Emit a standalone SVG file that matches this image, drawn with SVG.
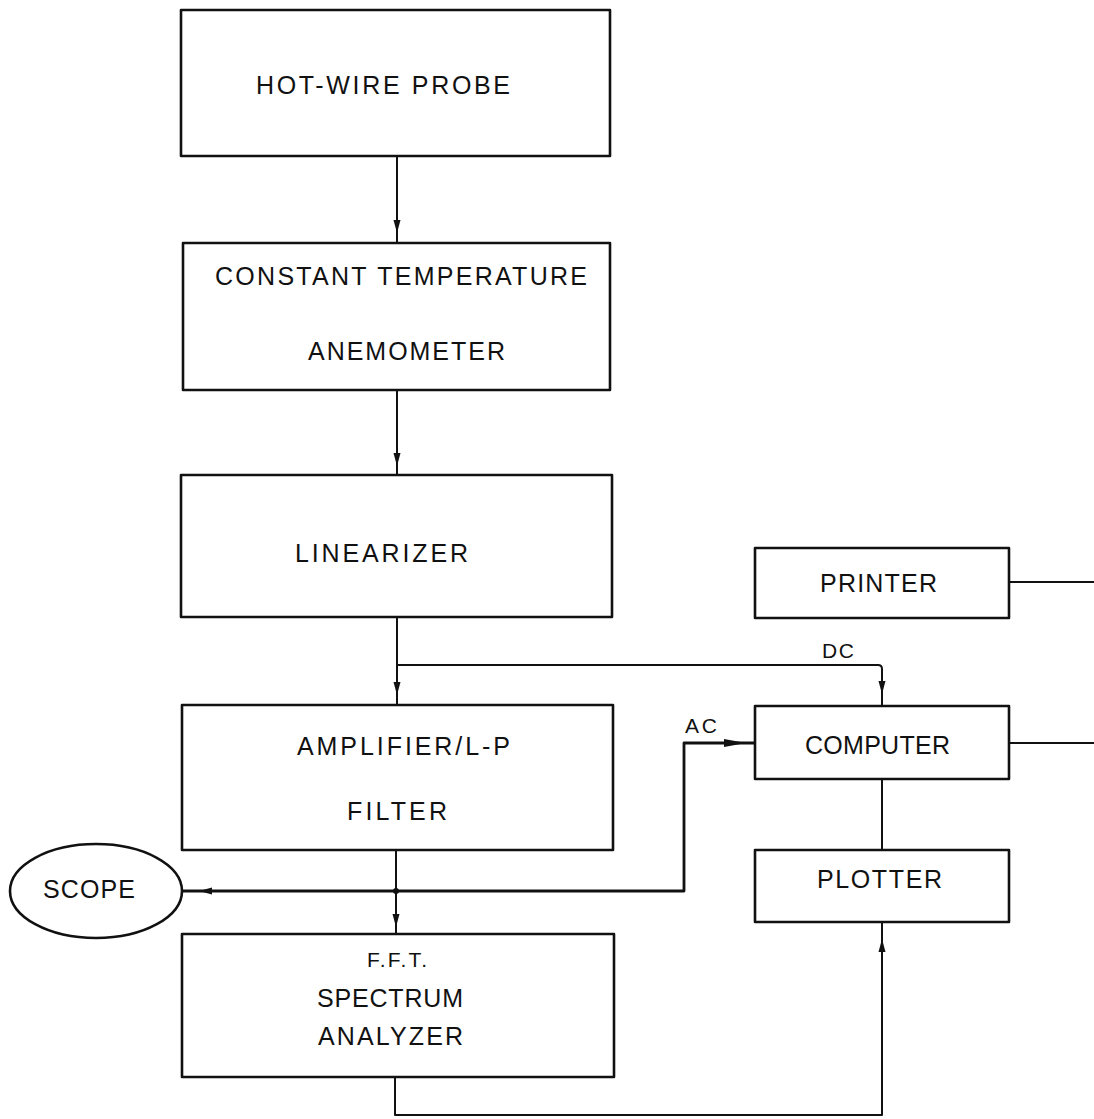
<svg xmlns="http://www.w3.org/2000/svg" xmlns:xlink="http://www.w3.org/1999/xlink" width="1094" height="1119" viewBox="0 0 1094 1119">
  <style>
    .box { fill: none; stroke: #111; stroke-width: 2.6; stroke-linejoin: round; }
    .wire { fill: none; stroke: #111; stroke-width: 2; stroke-linejoin: round; }
    .thick { stroke-width: 2.8; }
    .lbl { font-family: "Liberation Sans", Arial, sans-serif; font-size: 25px; fill: #111; }
    .sm { font-size: 21px; }
  </style>
  <defs>
    <!-- arrowhead pointing down, tip at origin -->
    <path id="head" d="M0,0 L-3.5,-13 L3.5,-13 Z" fill="#111"/>
    <path id="headBig" d="M0,0 L-4,-22 L4,-22 Z" fill="#111"/>
  </defs>

  <g id="hot-wire-probe">
    <rect class="box" x="181" y="10" width="429" height="146"/>
    <text class="lbl" x="256" y="94" textLength="254" lengthAdjust="spacing">HOT-WIRE  PROBE</text>
  </g>

  <g id="anemometer">
    <rect class="box" x="183" y="243" width="427" height="147"/>
    <text class="lbl" x="215" y="285" textLength="372" lengthAdjust="spacing">CONSTANT  TEMPERATURE</text>
    <text class="lbl" x="308" y="360" textLength="197" lengthAdjust="spacing">ANEMOMETER</text>
  </g>

  <g id="linearizer">
    <rect class="box" x="181" y="475" width="431" height="142"/>
    <text class="lbl" x="295" y="562" textLength="173" lengthAdjust="spacing">LINEARIZER</text>
  </g>

  <g id="amplifier">
    <rect class="box" x="182" y="705" width="431" height="145"/>
    <text class="lbl" x="297" y="755" textLength="213" lengthAdjust="spacing">AMPLIFIER/L-P</text>
    <text class="lbl" x="347" y="820" textLength="100" lengthAdjust="spacing">FILTER</text>
  </g>

  <g id="fft-analyzer">
    <rect class="box" x="182" y="934" width="432" height="143"/>
    <text class="lbl sm" x="367" y="967" textLength="60" lengthAdjust="spacing">F.F.T.</text>
    <text class="lbl" x="317" y="1007" textLength="146" lengthAdjust="spacing">SPECTRUM</text>
    <text class="lbl" x="318" y="1045" textLength="145" lengthAdjust="spacing">ANALYZER</text>
  </g>

  <g id="scope">
    <ellipse class="box" cx="96" cy="891" rx="86" ry="47"/>
    <text class="lbl" x="43" y="898" textLength="92" lengthAdjust="spacing">SCOPE</text>
  </g>

  <g id="printer">
    <rect class="box" x="755" y="548" width="254" height="70"/>
    <text class="lbl" x="820" y="592" textLength="117" lengthAdjust="spacing">PRINTER</text>
  </g>

  <g id="computer">
    <rect class="box" x="755" y="706" width="254" height="73"/>
    <text class="lbl" x="805" y="754" textLength="145" lengthAdjust="spacing">COMPUTER</text>
  </g>

  <g id="plotter">
    <rect class="box" x="755" y="850" width="254" height="72"/>
    <text class="lbl" x="817" y="888" textLength="125" lengthAdjust="spacing">PLOTTER</text>
  </g>

  <g id="connectors">
    <!-- main signal chain -->
    <line class="wire" x1="397" y1="156" x2="397" y2="243"/>
    <use xlink:href="#head" href="#head" transform="translate(397,233)"/>
    <line class="wire" x1="397" y1="390" x2="397" y2="475"/>
    <use xlink:href="#head" href="#head" transform="translate(397,466)"/>
    <line class="wire" x1="397" y1="617" x2="397" y2="705"/>
    <use xlink:href="#head" href="#head" transform="translate(397,695)"/>

    <!-- DC branch to computer -->
    <path class="wire" d="M397,665 H878 Q882,665 882,669 V706"/>
    <use xlink:href="#head" href="#head" transform="translate(882,694)"/>
    <text class="lbl sm" x="822" y="658" textLength="32" lengthAdjust="spacing">DC</text>

    <!-- filter output to analyzer -->
    <line class="wire" x1="396" y1="850" x2="396" y2="934"/>
    <use xlink:href="#head" href="#head" transform="translate(396,927)"/>
    <circle cx="396" cy="891" r="3" fill="#111"/>

    <!-- scope / AC line to computer -->
    <path class="wire thick" d="M183,891 H684 V743 H755"/>
    <use xlink:href="#head" href="#head" transform="translate(199,891) rotate(90)"/>
    <use xlink:href="#headBig" href="#headBig" transform="translate(746,743) rotate(-90)"/>
    <text class="lbl sm" x="685" y="733" textLength="32" lengthAdjust="spacing">AC</text>

    <!-- analyzer to plotter -->
    <path class="wire" d="M395,1077 V1115 H882 V922"/>
    <use xlink:href="#head" href="#head" transform="translate(882,939) rotate(180)"/>

    <!-- computer to plotter -->
    <line class="wire" x1="882" y1="779" x2="882" y2="850"/>

    <!-- outgoing lines at right edge -->
    <line class="wire" x1="1009" y1="582" x2="1094" y2="582"/>
    <line class="wire" x1="1009" y1="743" x2="1094" y2="743"/>
  </g>
</svg>
